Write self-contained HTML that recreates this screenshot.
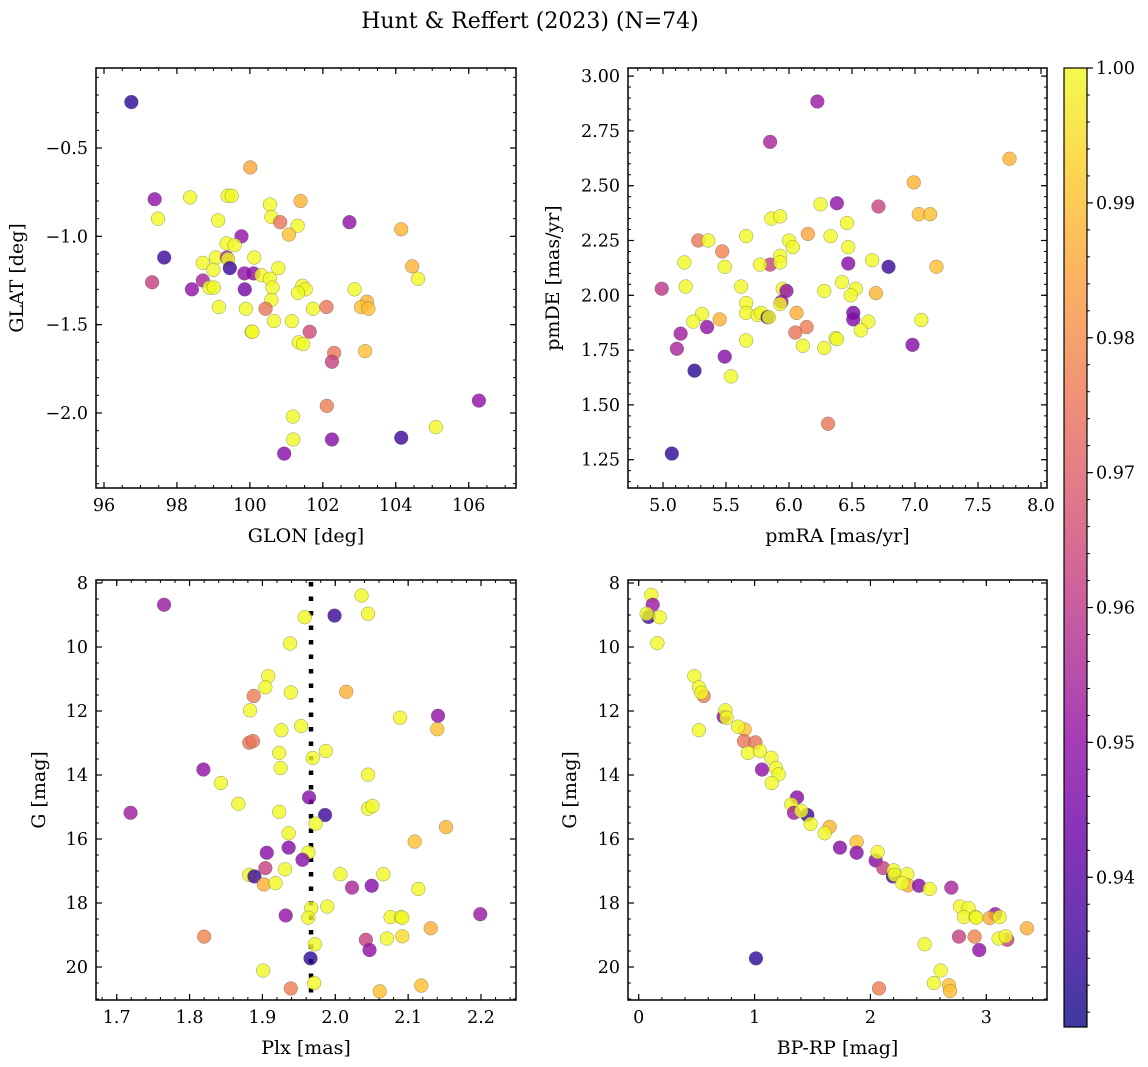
<!DOCTYPE html>
<html><head><meta charset="utf-8"><style>
body{margin:0;background:#fff;}
svg{display:block;font-family:"DejaVu Serif","Liberation Serif",serif;}
</style></head><body>
<svg id="fig" width="1148" height="1067" viewBox="0 0 1148 1067" xmlns="http://www.w3.org/2000/svg">
<text x="530" y="28" font-size="22" text-anchor="middle">Hunt &amp; Reffert (2023) (N=74)</text>
</svg>
<script>
const glon=[96.75,100.01,97.39,98.36,99.39,99.5,101.39,97.48,100.55,100.59,99.13,100.83,101.31,101.07,102.73,104.15,99.77,99.36,99.58,97.65,99.07,99.37,99.4,100.12,98.71,99.45,99.0,100.78,99.85,100.1,100.32,100.55,97.32,98.71,98.41,98.89,99.01,99.86,100.62,101.44,101.53,101.32,102.87,104.45,104.61,100.59,99.15,99.89,100.43,101.73,102.1,103.21,103.05,103.25,100.66,101.15,100.05,100.07,101.64,101.34,101.46,102.31,102.25,103.16,102.11,106.28,101.18,105.1,101.19,102.25,104.15,100.94];
const glat=[-0.24,-0.61,-0.79,-0.78,-0.77,-0.77,-0.80,-0.90,-0.82,-0.89,-0.91,-0.92,-0.94,-0.99,-0.92,-0.96,-1.0,-1.04,-1.05,-1.12,-1.12,-1.12,-1.13,-1.12,-1.15,-1.18,-1.19,-1.18,-1.21,-1.21,-1.22,-1.24,-1.26,-1.25,-1.30,-1.29,-1.29,-1.30,-1.29,-1.28,-1.30,-1.32,-1.30,-1.17,-1.24,-1.36,-1.40,-1.41,-1.41,-1.41,-1.40,-1.37,-1.40,-1.41,-1.48,-1.48,-1.54,-1.54,-1.54,-1.60,-1.61,-1.66,-1.71,-1.65,-1.96,-1.93,-2.02,-2.08,-2.15,-2.15,-2.14,-2.23];
const probA=[0.933,0.985,0.95,1,1,1,0.988,1,1,1,1,0.975,1,0.99,0.95,0.988,0.95,1,1,0.935,1,0.955,1,1,1,0.935,1,1,0.95,0.95,1,1,0.962,0.955,0.95,1,1,0.945,1,1,1,1,1,0.988,1,1,1,1,0.975,1,0.975,0.988,0.99,0.99,1,1,1,1,0.965,1,1,0.975,0.963,0.99,0.977,0.95,1,1,1,0.948,0.935,0.948];

const pmra=[6.225,5.85,7.75,6.99,6.25,6.38,6.71,7.03,7.12,5.86,5.93,6.46,6.15,5.66,6.33,5.28,5.36,6.0,6.03,6.47,5.47,5.93,5.17,6.66,6.47,5.85,5.77,5.93,5.49,6.79,7.17,5.18,4.99,5.62,6.42,5.95,5.98,6.28,6.53,6.49,6.69,5.66,5.94,5.93,5.66,5.31,5.24,5.45,5.75,5.78,5.83,5.84,6.06,6.51,6.51,6.63,7.05,5.35,5.14,6.14,6.05,6.57,6.37,6.38,5.11,5.66,6.11,6.28,6.98,5.49,5.25,5.54,6.31,5.07];
const pmde=[2.884,2.70,2.623,2.515,2.415,2.42,2.405,2.37,2.37,2.35,2.36,2.33,2.28,2.27,2.27,2.25,2.25,2.25,2.22,2.22,2.20,2.18,2.15,2.16,2.145,2.14,2.14,2.15,2.13,2.13,2.13,2.04,2.03,2.04,2.06,2.03,2.02,2.02,2.03,2.0,2.01,1.965,1.97,1.96,1.92,1.915,1.88,1.89,1.91,1.92,1.90,1.90,1.92,1.92,1.89,1.88,1.887,1.855,1.825,1.855,1.83,1.84,1.805,1.80,1.756,1.794,1.77,1.76,1.774,1.72,1.656,1.63,1.414,1.278];
const probB=[0.952,0.955,0.988,0.988,1,0.95,0.963,0.99,0.99,1,1,1,0.985,1,1,0.975,1,1,1,1,0.978,1,1,1,0.948,0.963,1,1,1,0.935,0.99,1,0.96,1,1,1,0.95,1,1,1,0.988,1,0.95,1,1,1,1,0.988,1,1,0.935,1,0.987,0.945,0.947,1,1,0.95,0.953,0.977,0.975,1,1,1,0.955,1,1,1,0.948,0.948,0.933,1,0.975,0.933];

const plx=[2.036,1.765,2.045,1.958,1.999,1.938,1.908,1.904,1.939,1.888,2.015,1.883,2.089,2.141,2.14,1.926,1.953,1.882,1.887,1.923,1.987,1.969,1.925,1.819,2.045,1.843,1.964,1.867,1.719,1.923,2.045,2.051,1.986,1.973,2.152,1.936,2.109,1.936,1.906,1.963,1.955,1.904,1.931,1.882,1.889,2.007,2.066,1.902,1.918,2.023,2.05,2.114,1.967,1.989,1.932,1.963,2.076,2.09,2.092,2.199,2.131,1.82,2.042,2.071,2.092,1.972,2.047,1.966,1.901,1.971,1.939,2.118,2.061];
const gmagC=[8.39,8.68,8.96,9.07,9.02,9.89,10.91,11.26,11.42,11.53,11.40,11.98,12.21,12.15,12.57,12.60,12.47,12.99,12.94,13.31,13.25,13.47,13.78,13.83,13.99,14.25,14.70,14.9,15.18,15.15,15.05,14.97,15.25,15.52,15.63,15.82,16.08,16.27,16.43,16.42,16.65,16.91,16.95,17.12,17.17,17.10,17.10,17.42,17.38,17.52,17.46,17.56,18.16,18.11,18.39,18.46,18.44,18.44,18.46,18.35,18.79,19.05,19.15,19.11,19.04,19.29,19.47,19.73,20.11,20.50,20.67,20.58,20.76];
const probC=[1,0.952,1,1,0.935,1,1,1,1,0.977,0.987,1,1,0.95,0.99,1,1,0.975,0.975,1,1,1,1,0.95,1,1,0.948,1,0.953,1,1,1,0.935,1,0.988,1,0.99,0.948,0.948,1,0.948,0.962,1,1,0.935,1,1,0.987,1,0.955,0.948,1,1,1,0.95,1,1,1,1,0.952,0.987,0.978,0.962,1,0.995,1,0.95,0.933,1,1,0.977,0.99,0.99];
const plxRef=[1.9667];

const bprp=[0.109,0.121,0.086,0.069,0.181,0.161,0.48,0.52,0.561,0.541,0.52,0.733,0.748,0.759,0.915,0.857,0.909,1.007,0.943,1.047,1.145,1.064,1.185,1.208,1.148,1.366,1.317,1.34,1.455,1.403,1.484,1.648,1.605,1.737,1.881,1.881,2.045,2.062,2.111,2.194,2.2,2.209,2.318,2.324,2.275,2.419,2.511,2.698,2.773,2.847,2.807,2.908,2.913,3.077,3.028,3.115,3.351,2.764,2.899,3.181,3.106,3.167,2.468,2.939,1.012,2.606,2.548,2.074,2.678,2.687];
const gmagD=[8.37,8.68,9.06,8.96,9.07,9.88,10.91,11.26,11.53,11.43,12.6,12.18,11.98,12.21,12.58,12.49,12.94,12.98,13.31,13.25,13.46,13.83,13.78,13.98,14.25,14.70,14.92,15.18,15.25,15.12,15.53,15.62,15.82,16.27,16.09,16.43,16.67,16.41,16.91,17.17,16.98,17.12,17.10,17.45,17.38,17.46,17.56,17.52,18.11,18.16,18.44,18.44,18.46,18.35,18.47,18.44,18.79,19.05,19.05,19.15,19.11,19.04,19.29,19.47,19.73,20.11,20.50,20.67,20.57,20.75];
const probD=[1,0.952,0.935,1,1,1,1,1,0.977,1,1,0.95,1,1,0.99,1,0.975,0.975,1,1,1,0.95,1,1,1,0.948,1,0.953,0.935,1,1,0.988,1,0.948,0.99,0.948,0.948,1,0.962,0.935,1,1,1,0.987,1,0.948,1,0.955,1,1,1,1,1,0.952,0.987,1,0.987,0.962,0.978,0.962,1,1,1,0.95,0.933,1,1,0.977,0.99,0.99];

const cbTicks=[0.94,0.95,0.96,0.97,0.98,0.99,1.00];

const NS="http://www.w3.org/2000/svg";
const svg=document.getElementById('fig');
function mk(tag,attrs,parent){const e=document.createElementNS(NS,tag);for(const k in attrs)e.setAttribute(k,attrs[k]);(parent||svg).appendChild(e);return e;}
const stops=[[13,8,135],[65,4,157],[106,0,168],[143,13,164],[177,42,144],[204,71,120],[225,100,98],[242,132,75],[252,166,54],[252,206,37],[240,249,33]];
const CMIN=0.9289,CMAX=1.0;
function plasma(t){t=Math.max(0,Math.min(1,t));const f=t*10,i=Math.min(9,Math.floor(f)),r=f-i;const a=stops[i],b=stops[i+1];return `rgb(${Math.round(a[0]+(b[0]-a[0])*r)},${Math.round(a[1]+(b[1]-a[1])*r)},${Math.round(a[2]+(b[2]-a[2])*r)})`;}
function lin(v0,p0,v1,p1){return v=>p0+(v-v0)*(p1-p0)/(v1-v0);}
function inv(v0,p0,v1,p1){return p=>v0+(p-p0)*(v1-v0)/(p1-p0);}
const TFS=17.5, LFS=19;

function panel(o){
  const g=mk('g',{});
  
  
  const sx=lin(...o.xa), sy=lin(...o.ya);
  const ix=inv(...o.xa), iy=inv(...o.ya);
  let a=ix(o.L),b=ix(o.R); const lo=Math.min(a,b),hi=Math.max(a,b);
  a=iy(o.T);b=iy(o.B); const ylo=Math.min(a,b),yhi=Math.max(a,b);
  const cid='clip-'+o.name;
  const cp=mk('clipPath',{id:cid},g);mk('rect',{x:o.L,y:o.T,width:o.R-o.L,height:o.B-o.T},cp);
  for(let k=Math.ceil(lo/o.xmin-1e-6);k*o.xmin<=hi;k++){const x=sx(k*o.xmin);
    mk('line',{x1:x,x2:x,y1:o.B,y2:o.B-3,stroke:'#000','stroke-width':1},g);mk('line',{x1:x,x2:x,y1:o.T,y2:o.T+3,stroke:'#000','stroke-width':1},g);}
  for(let k=Math.ceil(ylo/o.ymin-1e-6);k*o.ymin<=yhi;k++){const y=sy(k*o.ymin);
    mk('line',{x1:o.L,x2:o.L+3,y1:y,y2:y,stroke:'#000','stroke-width':1},g);mk('line',{x1:o.R,x2:o.R-3,y1:y,y2:y,stroke:'#000','stroke-width':1},g);}
  o.xt.forEach(v=>{const x=sx(v);
    mk('line',{x1:x,x2:x,y1:o.B,y2:o.B-6,stroke:'#000','stroke-width':1.2},g);mk('line',{x1:x,x2:x,y1:o.T,y2:o.T+6,stroke:'#000','stroke-width':1.2},g);
    const t=mk('text',{x:x,y:o.B+23,'font-size':TFS,'text-anchor':'middle'},g);t.textContent=o.xf(v);
    
    });
  o.yt.forEach(v=>{const y=sy(v);
    mk('line',{x1:o.L,x2:o.L+6,y1:y,y2:y,stroke:'#000','stroke-width':1.2},g);mk('line',{x1:o.R,x2:o.R-6,y1:y,y2:y,stroke:'#000','stroke-width':1.2},g);
    const t=mk('text',{x:o.L-8,y:y+6,'font-size':TFS,'text-anchor':'end'},g);t.textContent=o.yf(v);
    
    });
  const pg=mk('g',{'clip-path':`url(#${cid})`},g);
  if(o.extra)o.extra(pg,sx,sy);
  o.xs.forEach((xv,i)=>{const c=mk('circle',{cx:sx(xv),cy:sy(o.ys[i]),r:6.9,fill:plasma((o.ps[i]-CMIN)/(CMAX-CMIN)),'fill-opacity':0.8,stroke:'#555','stroke-opacity':0.6,'stroke-width':0.5},pg);
    
    });
  mk('rect',{x:o.L,y:o.T,width:o.R-o.L,height:o.B-o.T,fill:'none',stroke:'#000','stroke-width':1.5},g);
  const xl=mk('text',{x:(o.L+o.R)/2,y:o.B+54,'font-size':LFS,'text-anchor':'middle'},g);xl.textContent=o.xlab;
  
  
  const yx=o.ylx, yy=(o.T+o.B)/2;
  const yl=mk('text',{x:yx,y:yy,'font-size':LFS,'text-anchor':'middle',transform:`rotate(-90 ${yx} ${yy})`},g);yl.textContent=o.ylab;
  
  
}
const fm=s=>s.replace('-','\u2212');
const f1=v=>fm(v.toFixed(1)), f0=v=>String(Math.round(v)), f2=v=>v.toFixed(2);

panel({name:'glon-glat-panel',L:96,R:516,T:68,B:488,xa:[96,104,106,468.7],ya:[-0.5,148,-2.0,413],xmin:0.5,ymin:0.1,
  xt:[96,98,100,102,104,106],yt:[-0.5,-1.0,-1.5,-2.0],xf:f0,yf:f1,xs:glon,ys:glat,ps:probA,xlab:'GLON [deg]',ylab:'GLAT [deg]',ylx:23});
panel({name:'pm-panel',L:628,R:1047,T:68,B:488,xa:[5,663,8,1041],ya:[2.0,295.3,1.25,459.7],xmin:0.1,ymin:0.05,
  xt:[5,5.5,6,6.5,7,7.5,8],yt:[1.25,1.5,1.75,2.0,2.25,2.5,2.75,3.0],xf:f1,yf:f2,xs:pmra,ys:pmde,ps:probB,xlab:'pmRA [mas/yr]',ylab:'pmDE [mas/yr]',ylx:559});
panel({name:'plx-g-panel',L:96,R:516,T:580,B:1000,xa:[1.7,116.7,2.2,481],ya:[10,647,20,967],xmin:0.02,ymin:0.5,
  xt:[1.7,1.8,1.9,2.0,2.1,2.2],yt:[8,10,12,14,16,18,20],xf:f1,yf:f0,xs:plx,ys:gmagC,ps:probC,xlab:'Plx [mas]',ylab:'G [mag]',ylx:45,
  extra:(g,sx,sy)=>{plxRef.forEach(v=>{const l=mk('line',{x1:sx(v),x2:sx(v),y1:582,y2:1000,stroke:'#000','stroke-width':4.5,'stroke-dasharray':'4.5 10'},g);
    
    });}});
panel({name:'cmd-panel',L:628,R:1047,T:580,B:1000,xa:[0,638.7,3,986.3],ya:[10,647,20,967],xmin:0.2,ymin:0.5,
  xt:[0,1,2,3],yt:[8,10,12,14,16,18,20],xf:f0,yf:f0,xs:bprp,ys:gmagD,ps:probD,xlab:'BP-RP [mag]',ylab:'G [mag]',ylx:576});

(function(){
  const g=mk('g',{});
  
  
  const L=1064,R=1087,T=68,B=1027;
  const cy=lin(CMIN,B,CMAX,T);
  const defs=mk('defs',{},g);const gr=mk('linearGradient',{id:'cbg',x1:0,y1:1,x2:0,y2:0},defs);
  for(let i=0;i<=20;i++)mk('stop',{offset:i/20,'stop-color':plasma(i/20),'stop-opacity':0.8},gr);
  mk('rect',{x:L,y:T,width:R-L,height:B-T,fill:'url(#cbg)'},g);
  for(let k=Math.ceil(CMIN/0.002);k*0.002<=CMAX+1e-9;k++){const y=cy(k*0.002);mk('line',{x1:R,x2:R+3,y1:y,y2:y,stroke:'#000','stroke-width':1},g);}
  cbTicks.forEach(v=>{const y=cy(v);mk('line',{x1:R,x2:R+6,y1:y,y2:y,stroke:'#000','stroke-width':1.2},g);
    const t=mk('text',{x:R+9,y:y+6,'font-size':TFS},g);t.textContent=v.toFixed(2);
    
    });
  mk('rect',{x:L,y:T,width:R-L,height:B-T,fill:'none',stroke:'#000','stroke-width':1.2},g);
})();
</script>
</body></html>
